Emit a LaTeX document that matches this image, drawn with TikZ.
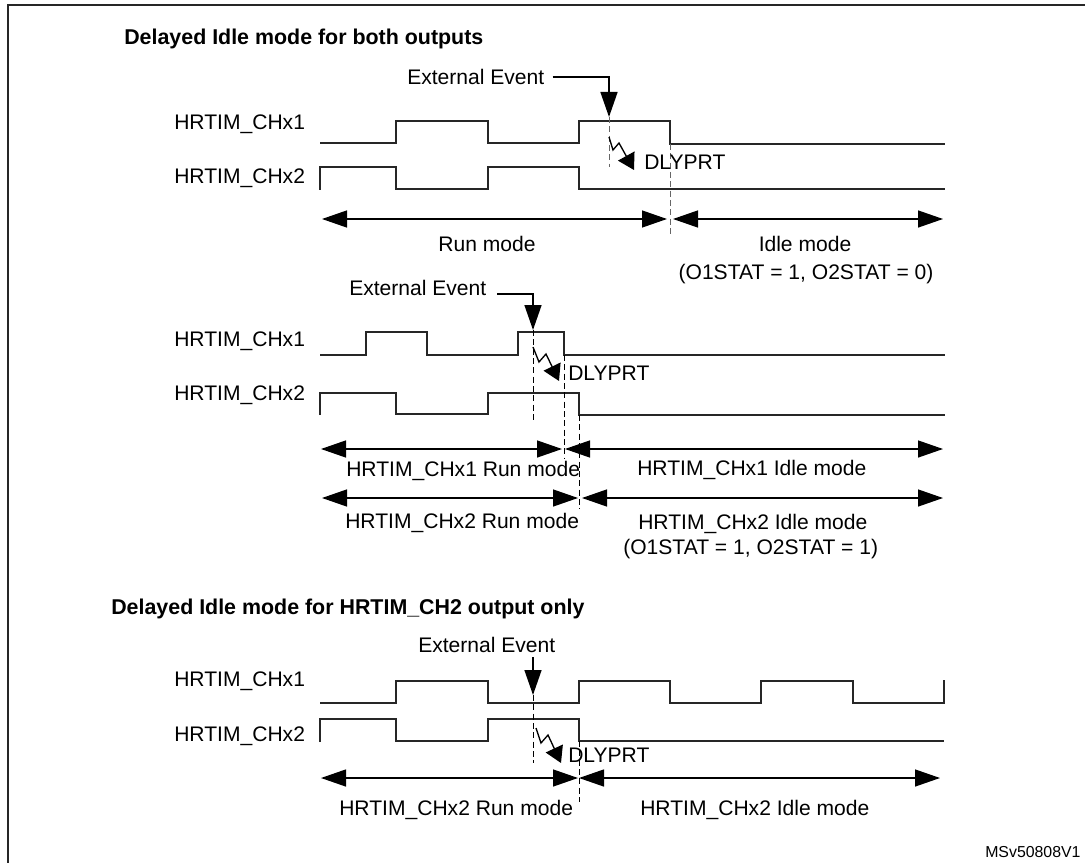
\documentclass[tikz,border=0pt]{standalone}
\usepackage{fontspec}
\setmainfont{Liberation Sans}
\usetikzlibrary{arrows.meta}

\begin{document}
\begin{tikzpicture}[x=0.75pt,y=-0.75pt,>={Triangle[length=18.75pt,width=12.75pt]},
                    label node/.style={inner sep=0pt,text height=11.3pt,text depth=0pt,font=\fontsize{15.8}{18}\selectfont},
                    head node/.style={label node,font=\fontsize{16.05}{18}\selectfont\bfseries},
                    wave/.style={line width=1.25pt,line join=miter,color=black!85},
                    span/.style={<->,line width=1pt,color=black},
                    guide/.style={dashed,line width=0.7pt,dash pattern=on 4.5pt off 2.5pt},
                    zig/.style={-{Triangle[length=12pt,width=14pt]},line width=1pt}]
\useasboundingbox (0,0) rectangle (1085,863);

% frame, open on the right
\draw[line width=1.4pt,color=black!85] (8,863)--(8,5)--(1085,5);

\node[head node,anchor=west] (HeadBoth) at (124,37) {Delayed Idle mode for both outputs};
\node[head node,anchor=west] (HeadCh2) at (111,607) {Delayed Idle mode for HRTIM\_CH2 output only};

% first group
\node[label node,anchor=west] (ChOneA) at (174,122) {HRTIM\_CHx1};
\node[label node,anchor=west] (ChTwoA) at (174,176) {HRTIM\_CHx2};
\draw[wave] (320,143)-|(396,121)-|(488,143)-|(579,121)-|(670,144)--(945,144);
\draw[wave] (320,190)|-(396,167)|-(488,189)-|(488,167)-|(579,189)--(945,189);

\node[label node,anchor=west] (EvtA) at (407,77) {External Event};
\coordinate (EvtTipA) at (609,117);
\draw[->,line width=1.1pt] (EvtA.east) ++(8,0) -| (EvtTipA);
\draw[guide,color=black!60] (EvtTipA)--(609,167);
\draw[guide,color=black!60] (670,144)--(670,235);
\draw[zig] (609,137)--(613,150)--(619,143)--(634,170);
\node[label node,anchor=west] (DlyA) at (644,162) {DLYPRT};

\coordinate (RunLeftA) at (322,219);
\coordinate (RunRightA) at (667,219);
\coordinate (IdleLeftA) at (673,219);
\coordinate (IdleRightA) at (943,219);
\draw[span] (RunLeftA)--(RunRightA);
\draw[span] (IdleLeftA)--(IdleRightA);
\node[label node] (RunA) at (487,244) {Run mode};
\node[label node] (IdleA) at (805,244) {Idle mode};
\node[label node] (StatA) at (806,272) {(O1STAT = 1, O2STAT = 0)};

% second group
\node[label node,anchor=west] (ChOneB) at (174,339) {HRTIM\_CHx1};
\node[label node,anchor=west] (ChTwoB) at (174,393) {HRTIM\_CHx2};
\draw[wave] (320,355)-|(366,332)-|(427,355)-|(518,332)-|(564,355)--(945,355);
\draw[wave] (320,415)|-(396,393)|-(488,414)-|(488,393)-|(579,415)--(945,415);

\node[label node,anchor=west] (EvtB) at (349,288) {External Event};
\coordinate (EvtStartB) at (497,294);
\coordinate (EvtTipB) at (533,330);
\draw[->,line width=1.1pt] (EvtStartB)-|(EvtTipB);
\draw[guide] (EvtTipB)--(533,421);
\draw[guide] (564,355)--(564,458);
\draw[guide] (579,415)--(579,509);
\draw[zig] (533,347)--(539,362)--(546,354)--(559,381);
\node[label node,anchor=west] (DlyB) at (568,373) {DLYPRT};

\coordinate (RunLeftB) at (321,449);
\coordinate (RunRightB) at (562,449);
\coordinate (IdleLeftB) at (565,449);
\coordinate (IdleRightB) at (943,449);
\coordinate (RunLeftC) at (322,498);
\coordinate (RunRightC) at (578,498);
\coordinate (IdleLeftC) at (582,498);
\coordinate (IdleRightC) at (943,498);
\draw[span] (RunLeftB)--(RunRightB);
\draw[span] (IdleLeftB)--(IdleRightB);
\draw[span] (RunLeftC)--(RunRightC);
\draw[span] (IdleLeftC)--(IdleRightC);
\node[label node,anchor=west] (RunB) at (346,469) {HRTIM\_CHx1 Run mode};
\node[label node,anchor=west] (IdleB) at (637,468) {HRTIM\_CHx1 Idle mode};
\node[label node,anchor=west] (RunC) at (345,521) {HRTIM\_CHx2 Run mode};
\node[label node,anchor=west] (IdleC) at (638,522) {HRTIM\_CHx2 Idle mode};
\node[label node,anchor=west] (StatB) at (623,547) {(O1STAT = 1, O2STAT = 1)};

% third group
\node[label node,anchor=west] (ChOneD) at (174,679) {HRTIM\_CHx1};
\node[label node,anchor=west] (ChTwoD) at (174,734) {HRTIM\_CHx2};
\draw[wave] (320,703)-|(396,681)-|(488,703)-|(579,681)-|(670,703)-|(761,681)-|(853,703)-|(944,680);
\draw[wave] (320,742)|-(396,719)|-(488,741)-|(488,719)-|(579,741)--(944,741);

\node[label node,anchor=west] (EvtD) at (418,645) {External Event};
\coordinate (EvtStartD) at (533,657);
\coordinate (EvtTipD) at (533,695);
\draw[->,line width=1.1pt] (EvtStartD)--(EvtTipD);
\draw[guide] (EvtTipD)--(533,763);
\draw[guide] (579,741)--(579,802);
\draw[zig] (536,728)--(541,743)--(548,735)--(561,763);
\node[label node,anchor=west] (DlyD) at (568,755) {DLYPRT};

\coordinate (RunLeftD) at (321,778);
\coordinate (RunRightD) at (578,778);
\coordinate (IdleLeftD) at (579,778);
\coordinate (IdleRightD) at (940,778);
\draw[span] (RunLeftD)--(RunRightD);
\draw[span] (IdleLeftD)--(IdleRightD);
\node[label node,anchor=west] (RunD) at (339,808) {HRTIM\_CHx2 Run mode};
\node[label node,anchor=west] (IdleD) at (640,808) {HRTIM\_CHx2 Idle mode};

\node[label node,anchor=west,font=\fontsize{11.9}{14}\selectfont,text height=8.5pt] (Code) at (985,852) {MSv50808V1};

\end{tikzpicture}
\end{document}
